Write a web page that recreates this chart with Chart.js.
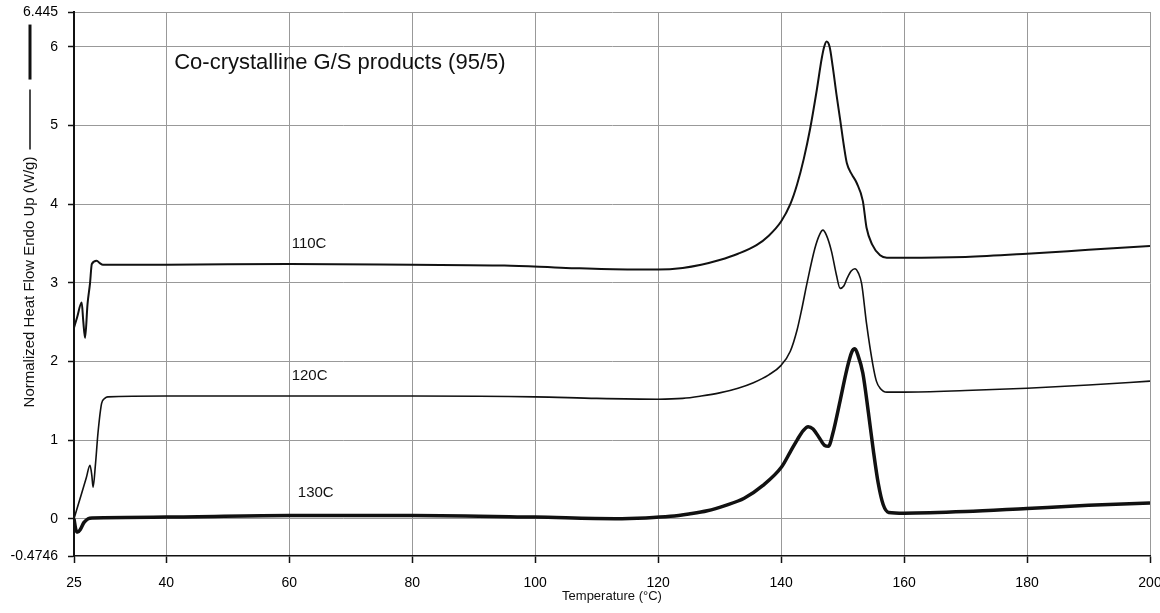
<!DOCTYPE html>
<html>
<head>
<meta charset="utf-8">
<title>DSC thermograms</title>
<script src="https://cdn.jsdelivr.net/npm/chart.js@4/dist/chart.umd.min.js"></script>
<style>
  html, body { margin: 0; padding: 0; background: #fff; }
  canvas { display: block; }
</style>
</head>
<body>
<canvas id="dsc" width="1160" height="613"></canvas>
<script>
// Heat-flow traces (W/g) against temperature (°C) for each sample
const temp110 = [25, 25.5, 26.25, 26.5, 26.8, 27.2, 27.6, 27.9, 28.7, 29.2, 29.7, 40, 60, 80, 95, 105, 115, 120, 124, 127, 130, 133, 136, 138, 140, 141.5, 142.6, 143.7, 144.7, 145.8, 146.6, 147.0, 147.4, 147.9, 148.4, 149.0, 149.6, 150.2, 150.7, 151.5, 152.3, 153.3, 153.9, 154.8, 156.1, 157.2, 160, 170, 180, 190, 200];
const flow110 = [2.43, 2.56, 2.75, 2.52, 2.30, 2.73, 2.99, 3.24, 3.28, 3.25, 3.23, 3.23, 3.24, 3.23, 3.22, 3.19, 3.17, 3.17, 3.19, 3.23, 3.29, 3.37, 3.48, 3.60, 3.78, 4.00, 4.25, 4.58, 4.95, 5.45, 5.85, 6.00, 6.07, 6.00, 5.75, 5.40, 5.08, 4.75, 4.52, 4.38, 4.27, 4.04, 3.70, 3.49, 3.35, 3.32, 3.32, 3.33, 3.37, 3.42, 3.47];

const temp120 = [25, 26.2, 27.0, 27.6, 27.9, 28.1, 28.5, 28.9, 29.5, 30.0, 30.5, 40, 60, 80, 100, 110, 120, 124, 127, 130, 133, 135.5, 138, 140, 141.5, 142.6, 143.4, 144.2, 145.5, 146.3, 146.8, 147.4, 148.2, 149.0, 149.6, 150.2, 150.7, 151.4, 152.0, 152.6, 153.1, 153.9, 154.9, 155.5, 156.1, 157.2, 160, 170, 180, 190, 200];
const flow120 = [0.00, 0.31, 0.52, 0.68, 0.55, 0.40, 0.70, 1.09, 1.47, 1.53, 1.55, 1.56, 1.56, 1.56, 1.55, 1.53, 1.52, 1.53, 1.56, 1.60, 1.66, 1.73, 1.83, 1.95, 2.13, 2.40, 2.68, 2.99, 3.44, 3.62, 3.67, 3.60, 3.40, 3.10, 2.93, 2.96, 3.05, 3.15, 3.18, 3.12, 2.99, 2.48, 1.97, 1.75, 1.66, 1.61, 1.61, 1.63, 1.66, 1.70, 1.75];

const temp130 = [25, 25.3, 25.6, 26.0, 26.6, 27.3, 28, 40, 60, 80, 100, 113, 118, 122, 125, 128, 131, 134, 137, 140.1, 141.5, 142.6, 143.6, 144.4, 145.2, 146.2, 147.1, 147.7, 148.4, 149.6, 150.7, 151.5, 152.0, 152.5, 153.3, 154.2, 155.0, 155.8, 156.6, 157.5, 160, 170, 180, 190, 200];
const flow130 = [0.00, -0.14, -0.17, -0.14, -0.05, 0.00, 0.01, 0.02, 0.04, 0.04, 0.02, 0.00, 0.01, 0.03, 0.06, 0.10, 0.17, 0.26, 0.42, 0.66, 0.85, 1.00, 1.12, 1.17, 1.14, 1.03, 0.93, 0.92, 1.08, 1.50, 1.90, 2.12, 2.16, 2.08, 1.85, 1.35, 0.87, 0.45, 0.18, 0.08, 0.07, 0.09, 0.13, 0.17, 0.20];

const seriesNames = ['110C', '120C', '130C'];
const xTicks = [25, 40, 60, 80, 100, 120, 140, 160, 180, 200];
const yTicks = [-0.4746, 0, 1, 2, 3, 4, 5, 6, 6.445];

const chartTitle = 'Co-crystalline G/S products (95/5)';
const xTitle = 'Temperature (°C)';
const yTitle = 'Normalized Heat Flow Endo Up (W/g)';

// Where each trace label sits, in data units
const labelSpots = [
  { x: 60.4, y: 3.49 },
  { x: 60.4, y: 1.82 },
  { x: 61.4, y: 0.33 }
];
const titleSpot = { x: 41.3, y: 5.80 };

const FONT = "'Liberation Sans', Arial, Helvetica, sans-serif";
const INK = '#111';
const GRID = '#999';

const toPoints = (t, f) => t.map((v, i) => ({ x: v, y: f[i] }));

const lineDefaults = {
  borderColor: INK,
  pointRadius: 0,
  fill: false,
  cubicInterpolationMode: 'monotone'
};

// Text annotations, axis titles and the line-weight key beside the y title
const annotate = {
  id: 'annotate',
  afterDatasetsDraw(chart) {
    const { ctx, chartArea, scales } = chart;
    const xs = scales.x, ys = scales.y;
    ctx.save();
    ctx.fillStyle = INK;

    ctx.font = '22px ' + FONT;
    ctx.textAlign = 'left';
    ctx.textBaseline = 'middle';
    ctx.fillText(chartTitle, xs.getPixelForValue(titleSpot.x), ys.getPixelForValue(titleSpot.y));

    ctx.font = '15px ' + FONT;
    seriesNames.forEach((name, i) => {
      ctx.fillText(name, xs.getPixelForValue(labelSpots[i].x), ys.getPixelForValue(labelSpots[i].y));
    });

    ctx.font = '13px ' + FONT;
    ctx.textAlign = 'center';
    ctx.fillText(xTitle, (chartArea.left + chartArea.right) / 2, 596);

    // rotated y title
    ctx.font = '15px ' + FONT;
    const tw = ctx.measureText(yTitle).width;
    const cy = 282, cx = 30;
    ctx.translate(cx, cy);
    ctx.rotate(-Math.PI / 2);
    ctx.fillText(yTitle, 0, 0);
    ctx.setTransform(1, 0, 0, 1, 0, 0);

    const top = cy - tw / 2;
    ctx.strokeStyle = INK;
    ctx.lineCap = 'butt';
    ctx.lineWidth = 1.5;
    ctx.beginPath();
    ctx.moveTo(cx, top - 7);
    ctx.lineTo(cx, top - 67);
    ctx.stroke();
    ctx.lineWidth = 3;
    ctx.beginPath();
    ctx.moveTo(cx, top - 77);
    ctx.lineTo(cx, top - 132);
    ctx.stroke();
    ctx.restore();
  }
};

new Chart(document.getElementById('dsc'), {
  type: 'line',
  data: {
    datasets: [
      Object.assign({ label: seriesNames[0], data: toPoints(temp110, flow110), borderWidth: 2 }, lineDefaults),
      Object.assign({ label: seriesNames[1], data: toPoints(temp120, flow120), borderWidth: 1.6 }, lineDefaults),
      Object.assign({ label: seriesNames[2], data: toPoints(temp130, flow130), borderWidth: 3.5 }, lineDefaults)
    ]
  },
  options: {
    responsive: false,
    animation: false,
    devicePixelRatio: 1,
    layout: { padding: { top: 12, right: 10, left: 0, bottom: 0 } },
    plugins: { legend: { display: false }, tooltip: { enabled: false } },
    scales: {
      x: {
        type: 'linear',
        min: 25,
        max: 200,
        afterBuildTicks: s => { s.ticks = xTicks.map(v => ({ value: v })); },
        afterFit: s => { s.height = 57; s.paddingLeft = 0; s.paddingRight = 0; },
        grid: {
          color: c => (c.tick && c.tick.value === 25) ? 'rgba(0,0,0,0)' : GRID,
          lineWidth: 1,
          tickLength: 7,
          tickColor: INK,
          tickWidth: 1.5
        },
        border: { color: INK, width: 1.5 },
        ticks: {
          autoSkip: false,
          maxRotation: 0,
          padding: 12,
          color: '#000',
          font: { family: FONT, size: 14 },
          callback: v => String(v)
        }
      },
      y: {
        type: 'linear',
        min: -0.4746,
        max: 6.445,
        afterBuildTicks: s => { s.ticks = yTicks.map(v => ({ value: v })); },
        afterFit: s => { s.width = 74; s.paddingTop = 0; s.paddingBottom = 0; },
        grid: {
          color: c => (c.tick && c.tick.value === -0.4746) ? 'rgba(0,0,0,0)' : GRID,
          lineWidth: 1,
          tickLength: 6,
          tickColor: INK,
          tickWidth: 1.5
        },
        border: { color: INK, width: 2 },
        ticks: {
          autoSkip: false,
          padding: 10,
          color: '#000',
          font: { family: FONT, size: 14 },
          callback: v => String(v)
        }
      }
    }
  },
  plugins: [annotate]
});
</script>
</body>
</html>
